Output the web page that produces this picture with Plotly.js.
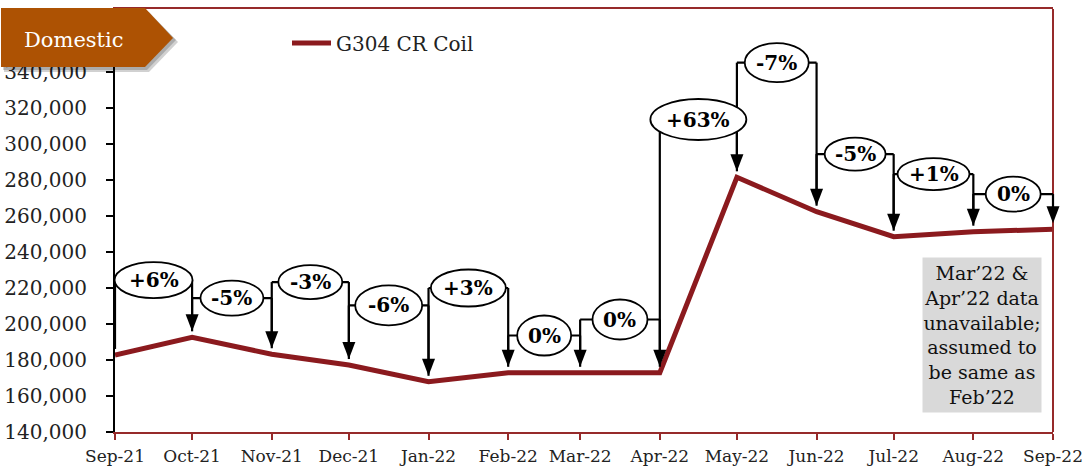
<!DOCTYPE html>
<html>
<head>
<meta charset="utf-8">
<script src="https://cdn.plot.ly/plotly-3.0.1.min.js"></script>
<style>
  html, body { margin: 0; padding: 0; background: #ffffff; }
  #chart { width: 1089px; height: 468px; }
</style>
</head>
<body>
<div id="chart"></div>
<script>
// ---------------- data ----------------
const months = ['2021-09-01', '2021-10-01', '2021-11-01', '2021-12-01', '2022-01-01', '2022-02-01',
                '2022-03-01', '2022-04-01', '2022-05-01', '2022-06-01', '2022-07-01', '2022-08-01', '2022-09-01'];
const seriesName = 'G304 CR Coil';
const prices = [182800, 192600, 183200, 177200, 167900, 172900, 172900, 172900, 281500, 262400, 248500, 251300, 252600];
const changeLabels = ['+6%', '-5%', '-3%', '-6%', '+3%', '0%', '0%', '+63%', '-7%', '-5%', '+1%', '0%'];
const yTickValues = [140000, 160000, 180000, 200000, 220000, 240000, 260000, 280000, 300000, 320000, 340000];
const noteLines = ['Mar’22 &amp;', 'Apr’22 data', 'unavailable;', 'assumed to', 'be same as', 'Feb’22'];
const tagText = 'Domestic';

// ---------------- callout geometry (positions / sizes, not data) ----------------
const bracketLevels = [224400, 214400, 223300, 210300, 220000, 193600, 202500, 313600, 345200, 294400, 283300, 272200];
const bubbleSizes = [[78, 36], [63, 35], [64, 34], [67, 40], [75, 37], [54, 40], [55, 40], [96, 41], [64, 39], [61, 33], [72, 32], [55, 35]];

// ---------------- layout constants ----------------
const W = 1089, H = 468;
const M = { l: 115, r: 36, t: 9, b: 36 };
const yMin = 140000, yMax = 375000;
const plotH = H - M.t - M.b;
const pxv = (yMax - yMin) / plotH;          // data units per pixel (vertical)
const t0 = Date.parse(months[0]);
const t1 = Date.parse(months[months.length - 1]);
const xp = d => (Date.parse(d) - t0) / (t1 - t0);  // date -> paper fraction

const INK = '#000000';
const FRAME = '#962A2A';
const LINEC = '#8B1A1E';
const FONT = 'DejaVu Serif, Georgia, serif';

const lines = [], heads = [], bubbles = [], annotations = [];
for (let k = 0; k < changeLabels.length; k++) {
  const xa = xp(months[k]);
  const xb = xp(months[k + 1]);
  const xm = (xa + xb) / 2;
  const lv = bracketLevels[k];
  const seg = (x0, y0, x1, y1) => ({
    type: 'line', xref: 'paper', yref: 'y', x0: x0, y0: y0, x1: x1, y1: y1,
    line: { color: INK, width: 2.2 }
  });
  lines.push(seg(xa, prices[k] + 6 * pxv, xa, lv));
  lines.push(seg(xa, lv, xb, lv));
  lines.push(seg(xb, lv, xb, prices[k + 1] + 14 * pxv));
  heads.push({
    type: 'path', xref: 'paper', yref: 'y', xsizemode: 'pixel', ysizemode: 'pixel',
    xanchor: xb, yanchor: prices[k + 1],
    path: 'M-6.5,23 L6.5,23 L0,6 Z',
    fillcolor: INK, line: { width: 0 }
  });
  const w = bubbleSizes[k][0], h = bubbleSizes[k][1];
  bubbles.push({
    type: 'circle', xref: 'paper', yref: 'y', xsizemode: 'pixel', ysizemode: 'pixel',
    xanchor: xm, yanchor: lv, x0: -w / 2, x1: w / 2, y0: -h / 2, y1: h / 2,
    fillcolor: '#ffffff', line: { color: INK, width: 1.8 }
  });
  annotations.push({
    xref: 'paper', yref: 'y', x: xm, y: lv, xanchor: 'center', yanchor: 'middle',
    text: '<b>' + changeLabels[k] + '</b>',
    showarrow: false, font: { family: FONT, size: 20, color: '#000000' }
  });
}

// note box
annotations.push({
  xref: 'paper', yref: 'paper', x: 0.9243, y: 0.2293, xanchor: 'center', yanchor: 'middle',
  width: 118, height: 154, borderpad: 0, bgcolor: '#D9D9D9', showarrow: false, align: 'center',
  text: noteLines.join('<br>'), font: { family: FONT, size: 19, color: '#111111' }
});

// tag text
annotations.push({
  xref: 'paper', yref: 'paper', x: 0, y: 1, xanchor: 'center', yanchor: 'middle',
  xshift: -41, yshift: -31, showarrow: false, text: tagText,
  font: { family: FONT, size: 21, color: '#ffffff' }
});

const frameShapes = [
  { type: 'line', xref: 'paper', yref: 'paper', x0: 1, x1: 1, y0: 0, y1: 1, line: { color: FRAME, width: 2 } }
];
const tagShapes = [
  { type: 'path', xref: 'paper', yref: 'paper', xsizemode: 'pixel', ysizemode: 'pixel', xanchor: 0, yanchor: 1,
    path: 'M-111,-3 L34,-3 L63,-33 L34,-63 L-111,-63 Z', fillcolor: 'rgba(0,0,0,0.18)', line: { width: 0 } },
  { type: 'path', xref: 'paper', yref: 'paper', xsizemode: 'pixel', ysizemode: 'pixel', xanchor: 0, yanchor: 1,
    path: 'M-112,-2 L32,-2 L61,-31 L32,-61 L-112,-61 Z', fillcolor: 'rgba(0,0,0,0.18)', line: { width: 0 } },
  { type: 'path', xref: 'paper', yref: 'paper', xsizemode: 'pixel', ysizemode: 'pixel', xanchor: 0, yanchor: 1,
    path: 'M-114,1 L30,1 L58,-29 L30,-58 L-114,-58 Z', fillcolor: '#AD5203', line: { width: 0 } }
];

const trace = {
  type: 'scatter', mode: 'lines', name: seriesName,
  x: months, y: prices,
  line: { color: LINEC, width: 5 },
  hoverinfo: 'skip'
};

const layout = {
  width: W, height: H,
  margin: M,
  paper_bgcolor: '#ffffff', plot_bgcolor: '#ffffff',
  font: { family: FONT, color: '#222222' },
  showlegend: true,
  legend: {
    x: (287 - M.l) / (W - M.l - M.r), y: (H - M.b - 43) / plotH,
    xanchor: 'left', yanchor: 'middle', bgcolor: 'rgba(0,0,0,0)',
    itemwidth: 39,
    font: { family: FONT, size: 20, color: '#222222' }
  },
  xaxis: {
    type: 'date', range: [months[0], months[months.length - 1]],
    tickvals: months, tickformat: '%b-%y',
    ticks: 'outside', ticklen: 6, tickwidth: 2, tickcolor: FRAME,
    showline: true, linecolor: FRAME, linewidth: 2, mirror: true,
    showgrid: false, zeroline: false, ticklabelstandoff: 2,
    tickfont: { family: FONT, size: 17, color: '#222222' }
  },
  yaxis: {
    range: [yMin, yMax],
    tickvals: yTickValues, tickformat: ',d',
    ticks: 'outside', ticklen: 7, tickwidth: 2, tickcolor: INK,
    showline: true, linecolor: INK, linewidth: 2,
    showgrid: false, zeroline: false, ticklabelstandoff: 15,
    tickfont: { family: FONT, size: 20, color: '#222222' }
  },
  shapes: frameShapes.concat(lines, heads, bubbles, tagShapes),
  annotations: annotations
};

Plotly.newPlot('chart', [trace], layout, { staticPlot: true, displayModeBar: false });
</script>
</body>
</html>
